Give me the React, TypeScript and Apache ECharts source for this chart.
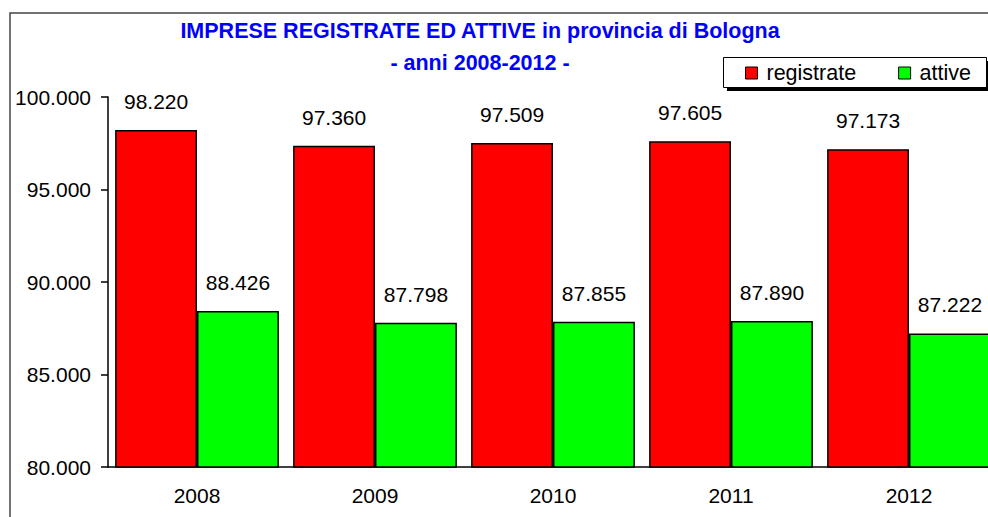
import React, { useEffect, useRef } from "react";
import * as echarts from "echarts";

const years = ["2008", "2009", "2010", "2011", "2012"];
const registrate = [98220, 97360, 97509, 97605, 97173];
const attive = [88426, 87798, 87855, 87890, 87222];
const yMin = 80000;
const yMax = 100000;
const yStep = 5000;
const titleText = "IMPRESE REGISTRATE ED ATTIVE in provincia di Bologna\n- anni 2008-2012 -";

const fmt = (v: number) => {
  const s = Math.round(v).toString();
  return s.replace(/\B(?=(\d{3})+(?!\d))/g, ".");
};

const FONT = "'Liberation Sans', Arial, sans-serif";

export default function App() {
  const ref = useRef<HTMLDivElement>(null);
  useEffect(() => {
    if (!ref.current) return;
    const chart = echarts.init(ref.current, null, { renderer: "svg" });
    chart.setOption({
      animation: false,
      backgroundColor: "#ffffff",
      textStyle: { fontFamily: FONT },
      title: {
        text: titleText,
        left: 480,
        top: 15,
        textAlign: "center",
        padding: 0,
        textStyle: {
          fontFamily: FONT,
          fontSize: 21.5,
          fontWeight: "bold",
          color: "#0000ff",
          lineHeight: 32,
        },
      },
      graphic: [
        {
          type: "rect",
          z: -10,
          shape: { x: 10, y: 13, width: 1020, height: 600 },
          style: { fill: "none", stroke: "#444444", lineWidth: 1.5 },
        },
        {
          type: "rect",
          z: 5,
          shape: { x: 727, y: 61, width: 263, height: 30 },
          style: { fill: "#000000" },
        },
        {
          type: "rect",
          z: 6,
          shape: { x: 723.5, y: 57.5, width: 263, height: 30 },
          style: { fill: "#ffffff", stroke: "#000000", lineWidth: 1 },
        },
      ],
      legend: {
        z: 20,
        left: 745,
        top: 62,
        padding: 0,
        itemWidth: 12,
        itemHeight: 12,
        itemGap: 42,
        icon: "rect",
        itemStyle: { borderColor: "#000000", borderWidth: 1 },
        textStyle: {
          fontFamily: FONT,
          fontSize: 21.5,
          color: "#000000",
          padding: [0, 0, 0, 4],
        },
        data: ["registrate", "attive"],
      },
      grid: { left: 108, top: 97, bottom: 50, right: 2, containLabel: false },
      xAxis: {
        type: "category",
        data: years,
        axisLine: { lineStyle: { color: "#000000", width: 1.5 } },
        axisTick: { length: 6, lineStyle: { color: "#000000", width: 1.5 } },
        axisLabel: { fontFamily: FONT, fontSize: 21, color: "#000000", margin: 18 },
      },
      yAxis: {
        type: "value",
        min: yMin,
        max: yMax,
        interval: yStep,
        splitLine: { show: false },
        axisLine: { show: true, lineStyle: { color: "#000000", width: 1.5 } },
        axisTick: { show: true, length: 7, lineStyle: { color: "#000000", width: 1.5 } },
        axisLabel: {
          fontFamily: FONT,
          fontSize: 21,
          color: "#000000",
          margin: 17,
          formatter: (v: number) => fmt(v),
        },
      },
      series: [
        {
          name: "registrate",
          type: "bar",
          data: registrate,
          barGap: "0%",
          barCategoryGap: "8%",
          itemStyle: { color: "#ff0000", borderColor: "#000000", borderWidth: 1.5 },
          label: {
            show: true,
            position: "top",
            distance: 18,
            fontFamily: FONT,
            fontSize: 21,
            color: "#000000",
            formatter: (p: any) => fmt(p.value),
          },
        },
        {
          name: "attive",
          type: "bar",
          data: attive,
          barGap: "0%",
          barCategoryGap: "8%",
          itemStyle: { color: "#00ff00", borderColor: "#000000", borderWidth: 1.5 },
          label: {
            show: true,
            position: "top",
            distance: 18,
            fontFamily: FONT,
            fontSize: 21,
            color: "#000000",
            formatter: (p: any) => fmt(p.value),
          },
        },
      ],
    });
    return () => chart.dispose();
  }, []);
  return (
    <div
      style={{
        position: "absolute",
        left: 0,
        top: 0,
        width: 988,
        height: 517,
        overflow: "hidden",
        background: "#ffffff",
      }}
    >
      <div ref={ref} style={{ width: 1000, height: 517 }} />
    </div>
  );
}
